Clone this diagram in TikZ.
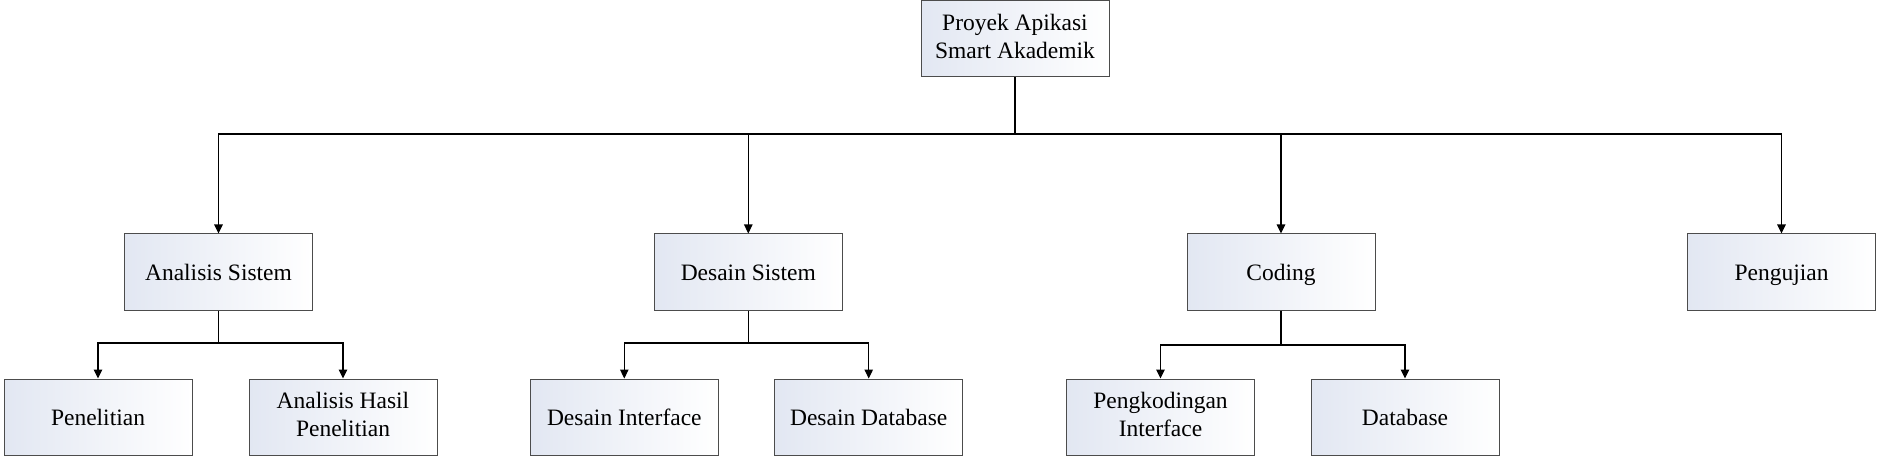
\documentclass[tikz,border=0pt]{standalone}
\usepackage{fontspec}
\setmainfont{Liberation Serif}
\usepackage{tikz}
\usetikzlibrary{arrows.meta}
\definecolor{boxfill}{HTML}{E2E7F2}
\newcommand{\boxstrut}{\rule[-5.2pt]{0pt}{27.2pt}}

\begin{document}
\begin{tikzpicture}[x=1pt,y=1pt,>={Triangle[length=9pt,width=8.5pt]},
        every node/.style={font=\fontsize{23.5}{28.5}\selectfont},
        box/.style={draw=black!70,line width=1pt,left color=boxfill,right color=white,
                    minimum width=188pt,minimum height=76pt,inner sep=0pt,align=center,
                    execute at begin node=\boxstrut,execute at end node=\boxstrut},
        link/.style={line width=1.1pt}]

  \useasboundingbox (0,0) rectangle (1880,-457);

  \node[box] (proyek)     at (1015,-39)   {Proyek Apikasi\\Smart Akademik};

  \node[box] (analisis)   at (218.5,-272) {Analisis Sistem};
  \node[box] (desain)     at (748.3,-272) {Desain Sistem};
  \node[box] (coding)     at (1281,-272)  {Coding};
  \node[box] (pengujian)  at (1781.5,-272) {Pengujian};

  \node[box] (penelitian) at (98,-417)    {Penelitian};
  \node[box] (hasil)      at (343,-417)   {Analisis Hasil\\Penelitian};
  \node[box] (dinterface) at (624.3,-417) {Desain Interface};
  \node[box] (ddatabase)  at (868.7,-417) {Desain Database};
  \node[box] (pinterface) at (1160.5,-417) {Pengkodingan\\Interface};
  \node[box] (database)   at (1405,-417)  {Database};

  \coordinate (bus)  at (1015,-134);
  \coordinate (busa) at (218.5,-343);
  \coordinate (busd) at (748.3,-343);
  \coordinate (busc) at (1281,-345);

  \draw[link] (proyek) -- (bus);
  \draw[link,->] (bus) -| (analisis);
  \draw[link,->] (bus) -| (desain);
  \draw[link,->] (bus) -| (coding);
  \draw[link,->] (bus) -| (pengujian);

  \draw[link] (analisis) -- (busa);
  \draw[link,->] (busa) -| (penelitian);
  \draw[link,->] (busa) -| (hasil);

  \draw[link] (desain) -- (busd);
  \draw[link,->] (busd) -| (dinterface);
  \draw[link,->] (busd) -| (ddatabase);

  \draw[link] (coding) -- (busc);
  \draw[link,->] (busc) -| (pinterface);
  \draw[link,->] (busc) -| (database);
\end{tikzpicture}
\end{document}
